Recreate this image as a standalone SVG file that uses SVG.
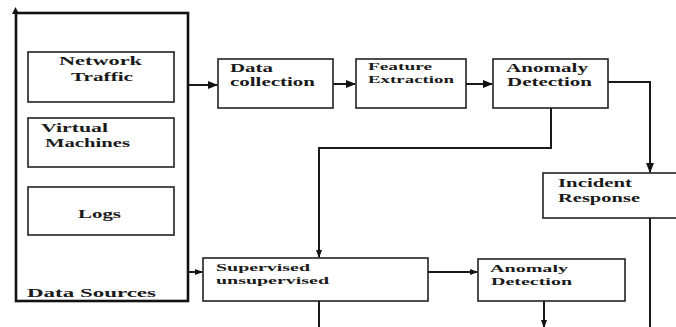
<svg xmlns="http://www.w3.org/2000/svg" width="676" height="327" viewBox="0 0 676 327">
<style>
.box{fill:#fff;stroke:#222;stroke-width:1.6}
.outer{fill:#fff;stroke:#111;stroke-width:2.6}
.t{font-family:"Liberation Serif","Times New Roman",serif;font-weight:bold;font-size:12px;fill:#1a1a1a}
.s{font-size:11px}
.c{fill:none;stroke:#1a1a1a;stroke-width:2}
</style>
<defs>
<marker id="ah" markerWidth="10" markerHeight="8" refX="9" refY="4" orient="auto" markerUnits="userSpaceOnUse">
<path d="M0,0 L10,4 L0,8 Z" fill="#111"/>
</marker>
<marker id="ahs" markerWidth="8" markerHeight="6" refX="7" refY="3" orient="auto" markerUnits="userSpaceOnUse">
<path d="M0,0 L8,3 L0,6 Z" fill="#111"/>
</marker>
</defs>
<rect width="676" height="327" fill="#fff"/>

<g id="data-sources">
<rect class="outer" x="16" y="13" width="172" height="288"/>
<path d="M12,14 L15.5,7 L19,14 Z" fill="#111"/>
<text class="t" x="27" y="297" textLength="129" lengthAdjust="spacingAndGlyphs">Data Sources</text>
</g>
<g id="network-traffic">
<rect class="box" x="28" y="52" width="146" height="50"/>
<text class="t" x="59" y="65" textLength="83" lengthAdjust="spacingAndGlyphs">Network</text>
<text class="t" x="71" y="81" textLength="62" lengthAdjust="spacingAndGlyphs">Traffic</text>
</g>
<g id="virtual-machines">
<rect class="box" x="28" y="118" width="146" height="49"/>
<text class="t" x="41" y="132" textLength="67" lengthAdjust="spacingAndGlyphs">Virtual</text>
<text class="t" x="45" y="147" textLength="85" lengthAdjust="spacingAndGlyphs">Machines</text>
</g>
<g id="logs">
<rect class="box" x="28" y="187" width="146" height="48"/>
<text class="t" x="78" y="218" textLength="43" lengthAdjust="spacingAndGlyphs">Logs</text>
</g>

<g id="data-collection">
<rect class="box" x="218" y="59" width="115" height="49"/>
<text class="t" x="230" y="72" textLength="43" lengthAdjust="spacingAndGlyphs">Data</text>
<text class="t" x="230" y="86" textLength="85" lengthAdjust="spacingAndGlyphs">collection</text>
</g>
<g id="feature-extraction">
<rect class="box" x="356" y="59" width="110" height="49"/>
<text class="t s" x="368" y="70" textLength="64" lengthAdjust="spacingAndGlyphs">Feature</text>
<text class="t s" x="368" y="83" textLength="86" lengthAdjust="spacingAndGlyphs">Extraction</text>
</g>
<g id="anomaly-detection-1">
<rect class="box" x="493" y="59" width="115" height="49"/>
<text class="t" x="506" y="72" textLength="82" lengthAdjust="spacingAndGlyphs">Anomaly</text>
<text class="t" x="507" y="86" textLength="85" lengthAdjust="spacingAndGlyphs">Detection</text>
</g>
<g id="incident-response">
<rect class="box" x="543" y="173" width="140" height="45"/>
<text class="t" x="558" y="187" textLength="74" lengthAdjust="spacingAndGlyphs">Incident</text>
<text class="t" x="558" y="202" textLength="82" lengthAdjust="spacingAndGlyphs">Response</text>
</g>
<g id="supervised-unsupervised">
<rect class="box" x="203" y="258" width="225" height="43"/>
<text class="t s" x="216" y="271" textLength="94" lengthAdjust="spacingAndGlyphs">Supervised</text>
<text class="t s" x="216" y="283.5" textLength="113" lengthAdjust="spacingAndGlyphs">unsupervised</text>
</g>
<g id="anomaly-detection-2">
<rect class="box" x="478" y="259" width="147" height="42"/>
<text class="t s" x="490" y="272" textLength="78" lengthAdjust="spacingAndGlyphs">Anomaly</text>
<text class="t s" x="491" y="284.5" textLength="81" lengthAdjust="spacingAndGlyphs">Detection</text>
</g>

<g id="connectors">
<line class="c" x1="189" y1="85" x2="217" y2="85" marker-end="url(#ah)"/>
<line class="c" x1="333" y1="84" x2="355" y2="84" marker-end="url(#ah)"/>
<line class="c" x1="466" y1="84" x2="492" y2="84" marker-end="url(#ah)"/>
<polyline class="c" points="608,82 650,82 650,172" marker-end="url(#ah)"/>
<polyline class="c" points="551,108 551,148 319,148 319,257" marker-end="url(#ahs)"/>
<line class="c" x1="189" y1="272" x2="202" y2="272" marker-end="url(#ahs)"/>
<line class="c" x1="428" y1="272" x2="477" y2="272" marker-end="url(#ahs)"/>
<line class="c" x1="319" y1="301" x2="319" y2="327"/>
<line class="c" x1="544" y1="301" x2="544" y2="327" marker-end="url(#ahs)"/>
<line class="c" x1="650" y1="218" x2="650" y2="327"/>
</g>
</svg>
